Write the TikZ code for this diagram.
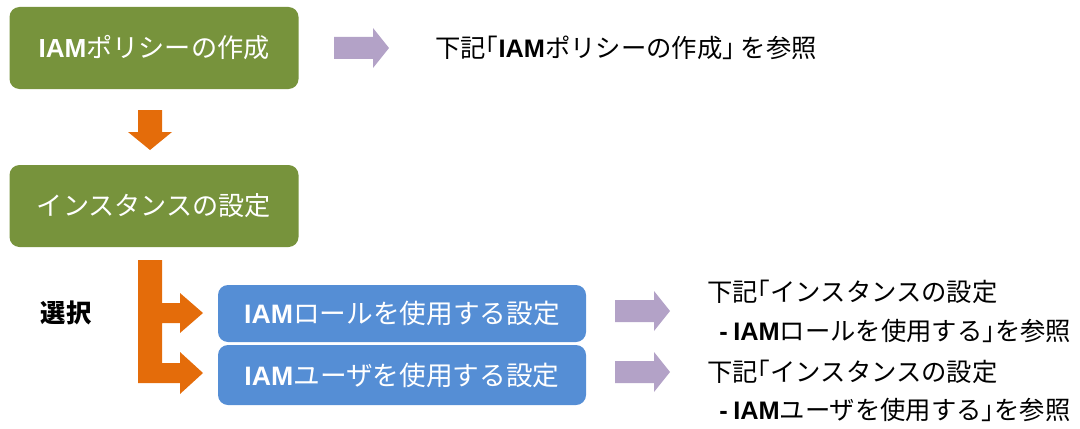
\documentclass[tikz,border=0pt]{standalone}
\usepackage{fontspec}
\setmainfont{Noto Sans CJK JP}
\newfontfamily\latb{Liberation Sans}
\newcommand\IAM{{\latb\bfseries IAM}}
\definecolor{boxgreen}{HTML}{77933C}
\definecolor{boxblue}{HTML}{558ED5}
\definecolor{arrorange}{HTML}{E46C0A}
\definecolor{arrpurple}{HTML}{B3A2C7}
\tikzset{
  gbox/.style={fill=boxgreen, rounded corners=7.5pt, minimum width=216.75pt, minimum height=61.5pt, text=white, font=\fontsize{19.6}{23}\selectfont, inner sep=0pt},
  bbox/.style={fill=boxblue, rounded corners=7.5pt, minimum width=276pt, text=white, font=\fontsize{20}{24}\selectfont, inner sep=0pt},
  note/.style={anchor=west, text=black, font=\fontsize{19}{23}\selectfont, inner sep=0pt},
  parr/.style={fill=arrpurple},
  oarr/.style={fill=arrorange}
}
\newcommand\purplearrow[2]{%
  \fill[parr] (#1,#2-11) -- (#1+39,#2-11) -- (#1+39,#2-20) -- (#1+55,#2) -- (#1+39,#2+20) -- (#1+39,#2+11) -- (#1,#2+11) -- cycle;}
\begin{document}
\begin{tikzpicture}[x=0.75pt,y=-0.75pt]
\useasboundingbox (0,0) rectangle (1080,428);
% boxes
\node[gbox] (policy) at (154,48) {\IAM ポリシーの作成};
\node[gbox] (inst) at (154,206) {インスタンスの設定};
\node[bbox, minimum height=42.75pt] (role) at (402,313.5) {\IAM ロールを使用する設定};
\node[bbox, minimum height=45pt] (user) at (402,375) {\IAM ユーザを使用する設定};
% choice label
\node[font=\fontsize{19}{23}\selectfont\bfseries, inner sep=0pt] (choice) at (66,313) {選択};
% orange arrows
\fill[oarr] (138,110) -- (162,110) -- (162,132) -- (172,132) -- (150,150) -- (128,132) -- (138,132) -- cycle;
\fill[oarr] (138,260) -- (162,260) -- (162,303) -- (180,303) -- (180,293) -- (203,313) -- (180,333) -- (180,323) -- (162,323) -- (162,363) -- (180,363) -- (180,352) -- (203,373) -- (180,394) -- (180,383) -- (138,383) -- cycle;
% purple arrows
\purplearrow{334}{48}
\purplearrow{615}{311}
\purplearrow{615}{372}
% notes
\node[note] (n1) at (435,48) {下記｢\IAM ポリシーの作成｣ を参照};
\node[note] (n2a) at (707,292) {下記｢インスタンスの設定};
\node[note] (n2b) at (719,331) {{\latb\bfseries -} \IAM ロールを使用する｣を参照};
\node[note] (n3a) at (707,372) {下記｢インスタンスの設定};
\node[note] (n3b) at (719,410) {{\latb\bfseries -} \IAM ユーザを使用する｣を参照};
\end{tikzpicture}
\end{document}
